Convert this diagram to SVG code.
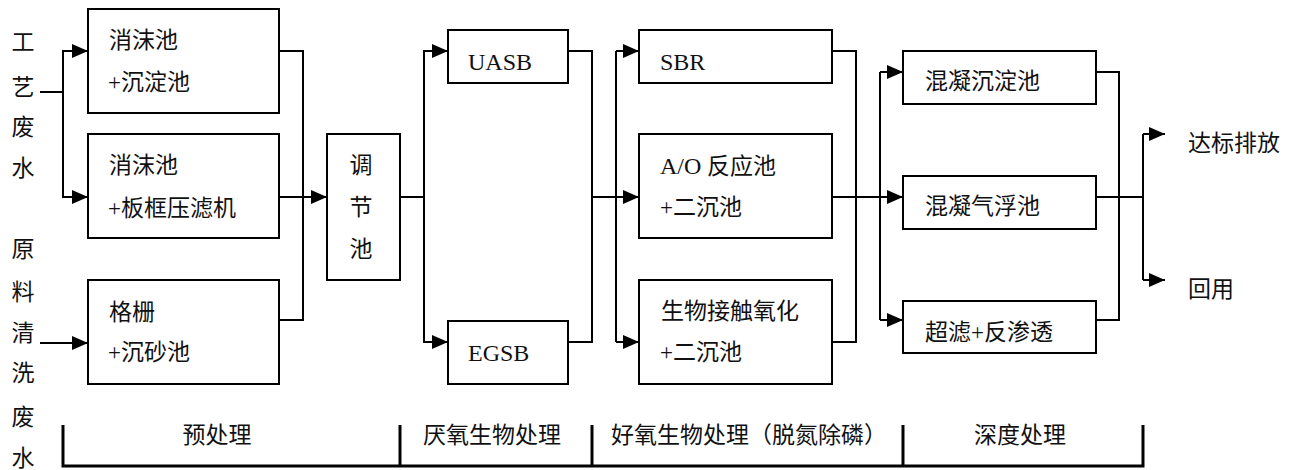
<svg xmlns="http://www.w3.org/2000/svg" width="1300" height="470" viewBox="0 0 1300 470">
<style>
text{font-family:"Liberation Serif","Noto Sans CJK SC",serif;font-size:23px;fill:#111}
.lat{font-size:24px}
.box{fill:#fff;stroke:#000;stroke-width:2}
.c{fill:none;stroke:#000;stroke-width:2}
.br{fill:none;stroke:#000;stroke-width:3}
.m{text-anchor:middle}
</style>
<defs>
<marker id="ah" markerUnits="userSpaceOnUse" viewBox="0 0 16 14" refX="16" refY="7" markerWidth="16" markerHeight="14" orient="auto">
<path d="M0 0 L16 7 L0 14 Z" fill="#000"/>
</marker>
</defs>
<rect width="1300" height="470" fill="#fff"/>

<g id="src1">
<text class="m" x="23" y="50">工</text>
<text class="m" x="23" y="95">艺</text>
<text class="m" x="23" y="135">废</text>
<text class="m" x="23" y="176">水</text>
</g>
<g id="src2">
<text class="m" x="23" y="257">原</text>
<text class="m" x="23" y="300">料</text>
<text class="m" x="23" y="341">清</text>
<text class="m" x="23" y="381">洗</text>
<text class="m" x="23" y="425">废</text>
<text class="m" x="23" y="466">水</text>
</g>

<g id="connectors">
<path class="c" d="M40 92 H63"/>
<path class="c" d="M63 92 V51 H88" marker-end="url(#ah)"/>
<path class="c" d="M63 92 V197 H88" marker-end="url(#ah)"/>
<path class="c" d="M40 343 H88" marker-end="url(#ah)"/>
<path class="c" d="M279 51 H303 V320 H279"/>
<path class="c" d="M279 197 H327" marker-end="url(#ah)"/>
<path class="c" d="M400 197 H424"/>
<path class="c" d="M424 197 V51 H448" marker-end="url(#ah)"/>
<path class="c" d="M424 197 V342 H448" marker-end="url(#ah)"/>
<path class="c" d="M568 51 H592 V342 H568"/>
<path class="c" d="M592 197 H639" marker-end="url(#ah)"/>
<path class="c" d="M616 51 V342"/>
<path class="c" d="M616 51 H639" marker-end="url(#ah)"/>
<path class="c" d="M616 342 H639" marker-end="url(#ah)"/>
<path class="c" d="M832 51 H856 V342 H832"/>
<path class="c" d="M832 197 H903" marker-end="url(#ah)"/>
<path class="c" d="M880 72 V320"/>
<path class="c" d="M880 72 H903" marker-end="url(#ah)"/>
<path class="c" d="M880 320 H903" marker-end="url(#ah)"/>
<path class="c" d="M1096 72 H1119 V320 H1096"/>
<path class="c" d="M1096 197 H1143"/>
<path class="c" d="M1143 134 V280"/>
<path class="c" d="M1143 134 H1165" marker-end="url(#ah)"/>
<path class="c" d="M1143 280 H1165" marker-end="url(#ah)"/>
</g>

<g id="n1"><rect class="box" x="88" y="9" width="191" height="104"/><text x="109" y="48">消沫池</text><text x="108" y="90">+沉淀池</text></g>
<g id="n2"><rect class="box" x="88" y="134" width="191" height="104"/><text x="109" y="173">消沫池</text><text x="108" y="216">+板框压滤机</text></g>
<g id="n3"><rect class="box" x="88" y="280" width="191" height="104"/><text x="109" y="320">格栅</text><text x="108" y="360">+沉砂池</text></g>
<g id="n4"><rect class="box" x="327" y="134" width="73" height="146"/><text class="m" x="361" y="173">调</text><text class="m" x="361" y="215">节</text><text class="m" x="361" y="257">池</text></g>
<g id="n5"><rect class="box" x="448" y="30" width="120" height="53"/><text class="lat" x="468" y="70">UASB</text></g>
<g id="n6"><rect class="box" x="448" y="321" width="120" height="63"/><text class="lat" x="468" y="361">EGSB</text></g>
<g id="n7"><rect class="box" x="639" y="30" width="193" height="53"/><text class="lat" x="660" y="70">SBR</text></g>
<g id="n8"><rect class="box" x="639" y="134" width="193" height="104"/><text x="660" y="174"><tspan class="lat">A/O</tspan> 反应池</text><text x="660" y="215">+二沉池</text></g>
<g id="n9"><rect class="box" x="639" y="280" width="193" height="104"/><text x="661" y="319">生物接触氧化</text><text x="660" y="360">+二沉池</text></g>
<g id="n10"><rect class="box" x="903" y="51" width="193" height="53"/><text x="925" y="89">混凝沉淀池</text></g>
<g id="n11"><rect class="box" x="903" y="176" width="193" height="53"/><text x="925" y="214">混凝气浮池</text></g>
<g id="n12"><rect class="box" x="903" y="301" width="193" height="52"/><text x="925" y="340">超滤+反渗透</text></g>
<g id="out1"><text x="1188" y="151">达标排放</text></g>
<g id="out2"><text x="1188" y="297">回用</text></g>

<g id="stages">
<path class="br" d="M63 425 V466 H1143 V425"/>
<path class="br" d="M400 425 V466 M592 425 V466 M903 425 V466"/>
<text class="m" x="217" y="443">预处理</text>
<text class="m" x="492" y="443">厌氧生物处理</text>
<text class="m" x="749" y="443">好氧生物处理（脱氮除磷）</text>
<text class="m" x="1020" y="443">深度处理</text>
</g>
</svg>
